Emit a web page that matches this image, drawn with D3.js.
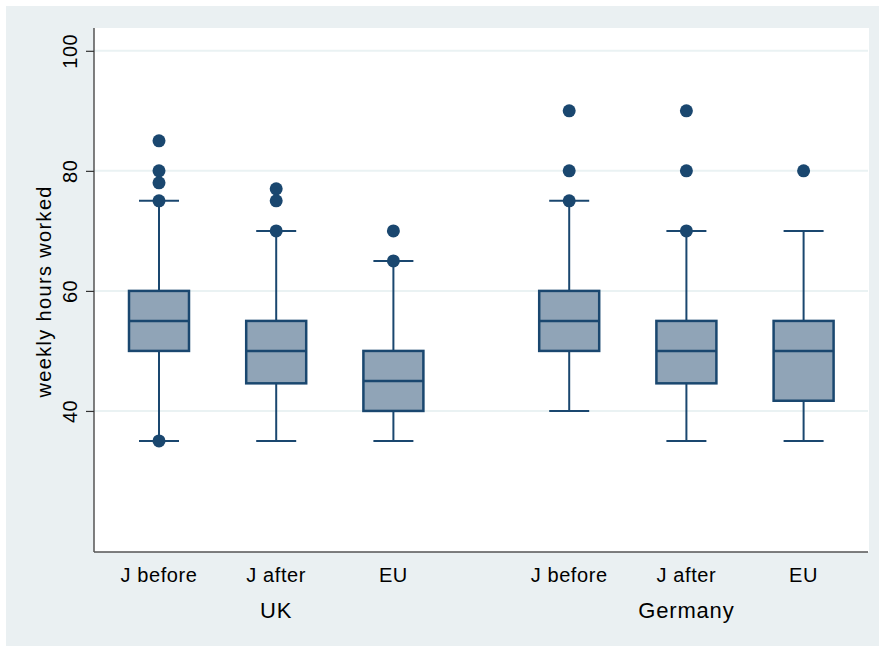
<!DOCTYPE html>
<html>
<head>
<meta charset="utf-8">
<script src="https://cdn.jsdelivr.net/npm/d3@7"></script>
<style>
  body { margin: 0; background: #fff; }
  svg { display: block; font-family: "Liberation Sans", Arial, sans-serif; }
</style>
</head>
<body>
<svg width="879" height="646"></svg>
<script>
// данные: группы, категории и статистики ящиков
const groups = ["UK", "Germany"];
const categories = ["J before", "J after", "EU"];
// по порядку: UK (J before, J after, EU), Germany (J before, J after, EU)
const q1 = [50, 44.6, 40, 50, 44.6, 41.7];
const medians = [55, 50, 45, 55, 50, 50];
const q3 = [60, 55, 50, 60, 55, 55];
const lowerWhisker = [35, 35, 35, 40, 35, 35];
const upperWhisker = [75, 70, 65, 75, 70, 70];
const outliers = [
  [85, 80, 78, 75, 35],
  [77, 75, 70],
  [70, 65],
  [90, 80, 75],
  [90, 80, 70],
  [80]
];
const yTicks = [40, 60, 80, 100];

const navy = "#1a476f";
const svg = d3.select("svg");

const area = { left: 94, right: 869, top: 28, bottom: 552 };

// фон графика
svg.append("rect")
  .attr("x", 6).attr("y", 6).attr("width", 873).attr("height", 640)
  .attr("fill", "#eaf0f2");
svg.append("rect")
  .attr("x", area.left).attr("y", area.top)
  .attr("width", area.right - area.left).attr("height", area.bottom - area.top)
  .attr("fill", "#fff");

const scaleY = d3.scaleLinear()
  .domain([16.5, 103.8])
  .range([area.bottom, area.top]);

// позиции ящиков: между группами промежуток в полтора шага
const slot = (g, c) => g * 3.5 + c;
const scaleX = d3.scaleLinear()
  .domain([0, 5.5])
  .range([159, 803.6]);

// линии сетки
svg.append("g")
  .selectAll("line")
  .data(yTicks)
  .enter()
  .append("line")
  .attr("x1", area.left).attr("x2", area.right - 1)
  .attr("y1", d => scaleY(d)).attr("y2", d => scaleY(d))
  .attr("stroke", "#eaf2f3")
  .attr("stroke-width", 2);

// ось Y
const axisY = d3.axisLeft(scaleY).tickValues(yTicks).tickSize(8).tickSizeOuter(0);
const gY = svg.append("g")
  .attr("transform", `translate(${area.left}, 0)`)
  .call(axisY);
gY.select(".domain").attr("stroke", "#555").attr("stroke-width", 1.5)
  .attr("d", `M0,${area.top}V${area.bottom}`);
gY.selectAll(".tick line").attr("stroke", "#333").attr("stroke-width", 1.2);
gY.selectAll(".tick text")
  .attr("x", 0).attr("y", 0).attr("dy", 0)
  .attr("transform", "translate(-17,0) rotate(-90)")
  .style("text-anchor", "middle")
  .style("font-size", "20px")
  .style("letter-spacing", "0.5px")
  .attr("fill", "#000");

// ось X
svg.append("line")
  .attr("x1", area.left).attr("x2", area.right - 1)
  .attr("y1", area.bottom).attr("y2", area.bottom)
  .attr("stroke", "#555").attr("stroke-width", 1.5);

// подпись оси Y
svg.append("text")
  .attr("transform", "translate(51, 292) rotate(-90)")
  .attr("text-anchor", "middle")
  .attr("textLength", 211)
  .attr("lengthAdjust", "spacing")
  .style("font-size", "20px")
  .text("weekly hours worked");

// собираем таблицу ящиков
const boxes = [];
groups.forEach((g, gi) => {
  categories.forEach((c, ci) => {
    const i = gi * 3 + ci;
    boxes.push({
      group: g, cat: c, pos: slot(gi, ci),
      q1: q1[i], med: medians[i], q3: q3[i],
      lo: lowerWhisker[i], hi: upperWhisker[i], out: outliers[i]
    });
  });
});

const boxW = 60, capW = 40;
const gBox = svg.append("g");

// усы
gBox.selectAll(".whisker")
  .data(boxes.flatMap(d => [[d, d.q3, d.hi], [d, d.q1, d.lo]]))
  .enter()
  .append("line")
  .attr("x1", d => scaleX(d[0].pos)).attr("x2", d => scaleX(d[0].pos))
  .attr("y1", d => scaleY(d[1])).attr("y2", d => scaleY(d[2]))
  .attr("stroke", navy).attr("stroke-width", 2);

gBox.selectAll(".cap")
  .data(boxes.flatMap(d => [[d, d.hi], [d, d.lo]]))
  .enter()
  .append("line")
  .attr("x1", d => scaleX(d[0].pos) - capW / 2).attr("x2", d => scaleX(d[0].pos) + capW / 2)
  .attr("y1", d => scaleY(d[1])).attr("y2", d => scaleY(d[1]))
  .attr("stroke", navy).attr("stroke-width", 2);

// ящики
gBox.selectAll(".box")
  .data(boxes)
  .enter()
  .append("rect")
  .attr("x", d => scaleX(d.pos) - boxW / 2)
  .attr("y", d => scaleY(d.q3))
  .attr("width", boxW)
  .attr("height", d => scaleY(d.q1) - scaleY(d.q3))
  .attr("fill", "#90a4b7")
  .attr("stroke", navy).attr("stroke-width", 2.5);

gBox.selectAll(".median")
  .data(boxes)
  .enter()
  .append("line")
  .attr("x1", d => scaleX(d.pos) - boxW / 2).attr("x2", d => scaleX(d.pos) + boxW / 2)
  .attr("y1", d => scaleY(d.med)).attr("y2", d => scaleY(d.med))
  .attr("stroke", navy).attr("stroke-width", 2.5);

// выбросы
gBox.selectAll(".dot")
  .data(boxes.flatMap(d => d.out.map(v => [d.pos, v])))
  .enter()
  .append("circle")
  .attr("cx", d => scaleX(d[0]))
  .attr("cy", d => scaleY(d[1]))
  .attr("r", 6.5)
  .attr("fill", navy);

// подписи категорий и групп
svg.append("g")
  .selectAll("text")
  .data(boxes)
  .enter()
  .append("text")
  .attr("x", d => scaleX(d.pos))
  .attr("y", 582)
  .attr("text-anchor", "middle")
  .style("font-size", "20px")
  .style("letter-spacing", "0.6px")
  .text(d => d.cat);

svg.append("g")
  .selectAll("text")
  .data(groups)
  .enter()
  .append("text")
  .attr("x", (d, i) => scaleX(slot(i, 1)))
  .attr("y", 618)
  .attr("text-anchor", "middle")
  .style("font-size", "22px")
  .style("letter-spacing", "0.8px")
  .text(d => d);
</script>
</body>
</html>
